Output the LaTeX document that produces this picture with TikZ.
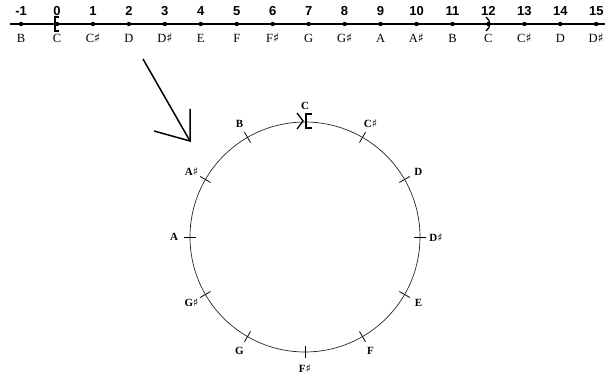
\documentclass[tikz,border=0pt]{standalone}
\usepackage{fontspec}
\usetikzlibrary{calc}
\setmainfont{Liberation Serif}
\newfontfamily\numfont{Liberation Sans}
\newfontfamily\symfont{DejaVu Serif}
\newcommand{\shp}{{\symfont\char"266F}}
\begin{document}
\begin{tikzpicture}[x=1pt,y=-1pt,
  numlbl/.style={font=\numfont\bfseries\fontsize{13}{14}\selectfont, inner sep=0pt},
  notelbl/.style={font=\fontsize{12.5}{14}\selectfont, inner sep=0pt},
  circlbl/.style={font=\bfseries\fontsize{11}{13}\selectfont, inner sep=0pt},
  dotmark/.style={fill=black, circle, inner sep=0pt, minimum size=4.4pt},
  tickline/.style={line width=0.8pt},
  ]
\useasboundingbox (0,0) rectangle (605,374);
% number line
\coordinate (lstart) at (10,24);
\coordinate (lend) at (605,24);
\draw[line width=2pt] (lstart) -- (lend);
\foreach \n/\nm [count=\k] in {-1/B,0/C,1/C\shp,2/D,3/D\shp,4/E,5/F,6/F\shp,7/G,8/G\shp,9/A,10/A\shp,11/B,12/C,13/C\shp,14/D,15/D\shp}{
  \node[dotmark] (d\k) at ({57+35.95*\n},24) {};
  \node[numlbl] (n\k) at ({57+35.95*\n},11) {\n};
  \node[notelbl] (m\k) at ({57+35.95*\n},38) {\nm};
}
% bracket marks on the line
\draw[line width=1.3pt] (59,17) -- (55,17) -- (55,31) -- (59,31);
\draw[line width=1.3pt] (486,17) .. controls (491,21) and (491,27) .. (486,31);
% arrow
\coordinate (atail) at (143,59);
\coordinate (atip) at (190,141);
\coordinate (aarm1) at (154,131);
\coordinate (aarm2) at (190,109);
\draw[line width=1.5pt] (atail) -- (atip);
\draw[line width=1.5pt] (aarm1) -- (atip) -- (aarm2);
% circle
\coordinate (cc) at (305,237);
\draw[line width=0.7pt, black!85] (cc) circle[radius=115];
\foreach \nm [count=\i from 0] in {C,C\shp,D,D\shp,E,F,F\shp,G,G\shp,A,A\shp,B}{
  \ifnum\i>0
  \draw[tickline] ($(cc)+({121*sin(30*\i)},{-121*cos(30*\i)})$) coordinate (to\i) -- ($(cc)+({109*sin(30*\i)},{-109*cos(30*\i)})$) coordinate (ti\i);
  \fi
  \node[circlbl] (l\i) at ($(cc)+({131*sin(30*\i)},{-131*cos(30*\i)})$) {\nm};
}
% joined marks at top (C)
\draw[line width=1.3pt] (297,113) -- (303,121) -- (297,129);
\draw[line width=1.3pt] (312,114) -- (306,114) -- (306,128) -- (312,128);
\end{tikzpicture}
\end{document}
